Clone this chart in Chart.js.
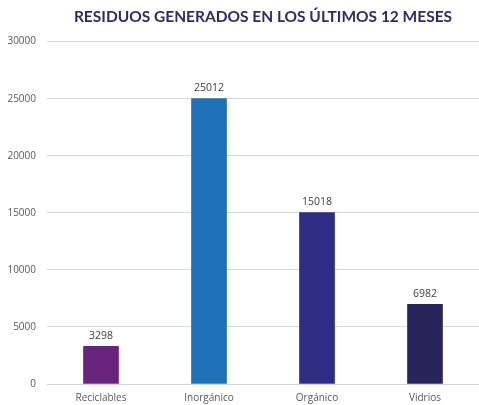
<!DOCTYPE html>
<html>
<head>
<meta charset="utf-8">
<script src="https://cdn.jsdelivr.net/npm/chart.js@4"></script>
<style>
  html, body { margin: 0; padding: 0; background: #fff; }
  #wrap { width: 479px; height: 405px; }
</style>
</head>
<body>
<div id="wrap"><canvas id="residuos"></canvas></div>
<script>
const categorias = ["Reciclables", "Inorgánico", "Orgánico", "Vidrios"];
const toneladas = [3298, 25012, 15018, 6982];
const colores = ["#68247c", "#1f71b8", "#2e2d83", "#27245a"];
const ticksY = [0, 5000, 10000, 15000, 20000, 25000, 30000];

// etiquetas de valor encima de cada barra
const etiquetas = {
  id: "etiquetas",
  afterDatasetsDraw(chart) {
    const ctx = chart.ctx;
    const meta = chart.getDatasetMeta(0);
    ctx.save();
    ctx.font = "10.5px 'Open Sans', sans-serif";
    ctx.fillStyle = "#404040";
    ctx.textAlign = "center";
    ctx.textBaseline = "bottom";
    meta.data.forEach((bar, i) => {
      ctx.fillText(String(toneladas[i]), bar.x, bar.y - 5);
    });
    ctx.restore();
  }
};

new Chart(document.getElementById("residuos"), {
  type: "bar",
  data: {
    labels: categorias,
    datasets: [{
      data: toneladas,
      backgroundColor: colores,
      barThickness: 35
    }]
  },
  options: {
    responsive: true,
    maintainAspectRatio: false,
    animation: false,
    layout: { padding: 0 },
    plugins: {
      legend: { display: false },
      tooltip: { enabled: false },
      title: {
        display: true,
        text: "RESIDUOS GENERADOS EN LOS ÚLTIMOS 12 MESES",
        color: "#2e2b6b",
        font: { family: "Lato", size: 15.5, weight: "bold" },
        fullSize: false,
        padding: { top: 8, bottom: 15 }
      }
    },
    scales: {
      x: {
        grid: { display: false, drawTicks: false },
        border: { display: false },
        afterFit(axis) { axis.height = 21; },
        ticks: {
          color: "#595959",
          font: { family: "'Open Sans', sans-serif", size: 10 },
          padding: 8
        }
      },
      y: {
        min: 0,
        max: 30000,
        afterBuildTicks(axis) {
          axis.ticks = ticksY.map(v => ({ value: v }));
        },
        afterFit(axis) { axis.width = 47; },
        grid: { color: "#d9d9d9", drawTicks: false },
        border: { display: false },
        ticks: {
          color: "#595959",
          font: { family: "'Open Sans', sans-serif", size: 10 },
          padding: 11,
          callback: v => String(v)
        }
      }
    }
  },
  plugins: [etiquetas]
});
</script>
</body>
</html>
